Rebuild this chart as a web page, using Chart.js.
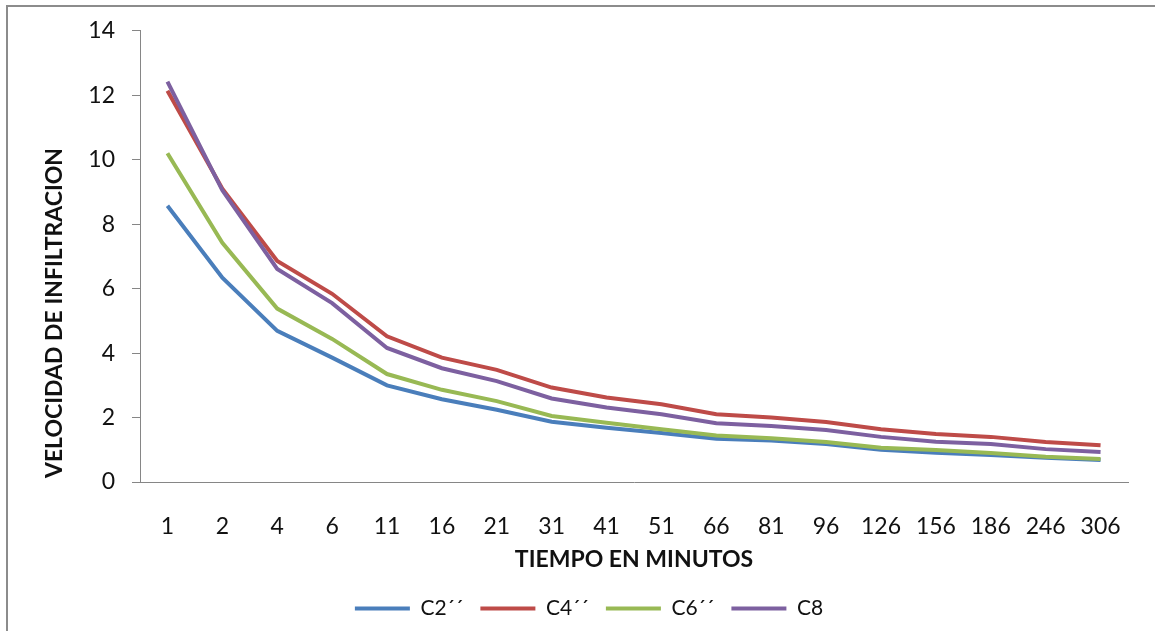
<!DOCTYPE html>
<html>
<head>
<meta charset="utf-8">
<script src="https://cdn.jsdelivr.net/npm/chart.js@4.4.0/dist/chart.umd.min.js"></script>
<style>
    body { margin: 0; background: #fff; }
    #frame {
        position: absolute; left: 6px; top: 5px; right: 0; bottom: 0;
        border-left: 2px solid #8c8c8c; border-top: 2px solid #8c8c8c;
    }
    #wrap { position: absolute; left: 0; top: 0; width: 1155px; height: 631px; }
</style>
</head>
<body>
<div id="frame"></div>
<div id="wrap"><canvas id="myChart"></canvas></div>
<script>
// tiempo (minutos)
const tiempo = ["1", "2", "4", "6", "11", "16", "21", "31", "41", "51", "66", "81", "96", "126", "156", "186", "246", "306"];

const c2 = [8.57, 6.34, 4.69, 3.86, 3.0, 2.57, 2.24, 1.87, 1.68, 1.52, 1.34, 1.29, 1.18, 1.0, 0.91, 0.84, 0.75, 0.68];
const c4 = [12.14, 9.1, 6.86, 5.84, 4.52, 3.86, 3.48, 2.93, 2.62, 2.41, 2.1, 2.0, 1.86, 1.64, 1.49, 1.4, 1.24, 1.14];
const c6 = [10.2, 7.42, 5.38, 4.44, 3.35, 2.86, 2.51, 2.05, 1.84, 1.64, 1.44, 1.36, 1.24, 1.06, 0.99, 0.9, 0.78, 0.71];
const c8 = [12.42, 9.05, 6.61, 5.55, 4.16, 3.53, 3.13, 2.59, 2.31, 2.1, 1.82, 1.74, 1.61, 1.4, 1.25, 1.18, 1.02, 0.93];

const serieNames = ["C2´´", "C4´´", "C6´´", "C8"];
const yTicks = [0, 2, 4, 6, 8, 10, 12, 14];

const FONT = "Lato";
const axisGray = "#868686";

// y axis title drawn by hand so it can sit a bit lower than the plot centre (like Excel)
const yTitlePlugin = {
    id: "yTitle",
    afterDraw(chart) {
        const ctx = chart.ctx;
        ctx.save();
        ctx.translate(55, 313);
        ctx.rotate(-Math.PI / 2);
        ctx.font = "bold 23px " + FONT;
        ctx.fillStyle = "#111";
        ctx.textAlign = "center";
        ctx.textBaseline = "middle";
        ctx.fillText("VELOCIDAD DE INFILTRACION", 0, 0);
        ctx.restore();
    }
};

function makeDataset(label, data, color, order) {
    return {
        label: label,
        data: data,
        borderColor: color,
        backgroundColor: color,
        borderWidth: 4,
        pointRadius: 0,
        tension: 0,
        fill: false,
        order: order
    };
}

const ctx = document.getElementById("myChart");
const chart = new Chart(ctx, {
    type: "line",
    data: {
        labels: tiempo,
        datasets: [
            makeDataset(serieNames[0], c2, "#4A7EBB", 4),
            makeDataset(serieNames[1], c4, "#BE4B48", 3),
            makeDataset(serieNames[2], c6, "#98B954", 2),
            makeDataset(serieNames[3], c8, "#7D60A0", 1)
        ]
    },
    options: {
        responsive: true,
        maintainAspectRatio: false,
        animation: false,
        layout: {
            padding: { top: 30, left: 50, right: 27, bottom: 2 }
        },
        scales: {
            x: {
                offset: true,
                grid: { display: false },
                border: { color: axisGray, width: 1 },
                ticks: {
                    padding: 23,
                    color: "#111",
                    font: { family: FONT, size: 23 },
                    maxRotation: 0,
                    autoSkip: false
                },
                title: {
                    display: true,
                    text: "TIEMPO EN MINUTOS",
                    color: "#111",
                    font: { family: FONT, size: 23, weight: "bold" },
                    padding: { top: 4, bottom: 8 }
                },
                afterFit: (axis) => { axis.height = 99; }
            },
            y: {
                min: 0,
                max: 14,
                afterBuildTicks: (axis) => { axis.ticks = yTicks.map(v => ({ value: v })); },
                grid: {
                    drawOnChartArea: false,
                    color: axisGray,
                    tickLength: 8
                },
                border: { color: axisGray, width: 1 },
                ticks: {
                    padding: 17,
                    color: "#111",
                    font: { family: FONT, size: 23 }
                },
                afterFit: (axis) => { axis.width = 90; }
            }
        },
        plugins: {
            tooltip: { enabled: false },
            legend: {
                position: "bottom",
                labels: {
                    boxWidth: 55,
                    boxHeight: 4,
                    padding: 17,
                    color: "#111",
                    font: { family: FONT, size: 21 },
                    generateLabels: (chart) => Chart.defaults.plugins.legend.labels
                        .generateLabels(chart)
                        .map(l => ({ ...l, lineWidth: 0, fillStyle: l.strokeStyle }))
                        .sort((a, b) => a.datasetIndex - b.datasetIndex)
                }
            }
        }
    },
    plugins: [yTitlePlugin]
});
</script>
</body>
</html>
